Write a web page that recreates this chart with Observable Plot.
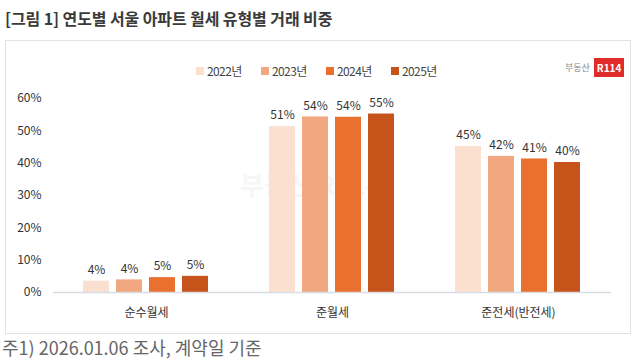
<!DOCTYPE html>
<html><head><meta charset="utf-8">
<script src="https://cdn.jsdelivr.net/npm/d3@7"></script>
<script src="https://cdn.jsdelivr.net/npm/@observablehq/plot@0.6"></script>
<style>
body{margin:0;width:640px;height:360px;background:#fff;font-family:"Noto Sans CJK KR","Noto Sans",sans-serif;overflow:hidden;position:relative;color:#333}
#title{position:absolute;left:5px;top:6px;font-size:16px;font-weight:bold;color:#3a3a3a;letter-spacing:-0.1px}
#box{position:absolute;left:5px;top:40px;width:626px;height:294px;border:1px solid #e2e2e2;box-sizing:border-box}
#legend{position:absolute;top:62px;left:196px;display:flex;font-size:12px;color:#444;letter-spacing:-0.6px}
#legend div{display:flex;align-items:center;width:65px}
#legend span.sw{width:8px;height:8px;margin-right:3px;display:inline-block}
#logo{position:absolute;left:565px;top:58px;display:flex;align-items:center;font-size:9px;color:#888}
#logo .r{background:#e02b2b;color:#fff;font-weight:bold;font-size:10px;padding:2px 3px;margin-left:4px}
#wm{position:absolute;left:240px;top:165px;font-size:26px;font-weight:bold;color:#000;opacity:0.03}
#chart{position:absolute;left:0;top:85px}
#foot{position:absolute;left:2px;top:337px;font-size:18px;line-height:20px;color:#666}
</style></head><body>
<div id="title">[그림 1] 연도별 서울 아파트 월세 유형별 거래 비중</div>
<div id="box"></div>
<div id="legend"></div>
<div id="logo">부동산<span class="r">R114</span></div>
<div id="wm">부동산 R114</div>
<div id="chart"></div>
<div id="foot">주1) 2026.01.06 조사, 계약일 기준</div>
<script>
const categories = ["순수월세", "준월세", "준전세(반전세)"];
const years = ["2022년", "2023년", "2024년", "2025년"];
const colors = ["#fbe0d0", "#f1a77f", "#e9702f", "#c5531a"];
const v2022 = [3.5, 51.3, 45.2];
const v2023 = [3.9, 54.3, 42.1];
const v2024 = [4.6, 54.2, 41.3];
const v2025 = [5.0, 55.2, 40.2];
const labels2022 = ["4%", "51%", "45%"];
const labels2023 = ["4%", "54%", "42%"];
const labels2024 = ["5%", "54%", "41%"];
const labels2025 = ["5%", "55%", "40%"];
const yTicks = [0, 10, 20, 30, 40, 50, 60];

const series = [v2022, v2023, v2024, v2025];
const lbls = [labels2022, labels2023, labels2024, labels2025];
const data = [];
categories.forEach((c, i) => years.forEach((y, j) => data.push({cat: c, year: y, value: series[j][i], label: lbls[j][i]})));

const leg = document.getElementById("legend");
years.forEach((y, j) => {
  const d = document.createElement("div");
  d.innerHTML = `<span class="sw" style="background:${colors[j]}"></span>${y}`;
  leg.appendChild(d);
});

const chart = Plot.plot({
  width: 640,
  height: 245,
  marginLeft: 52,
  marginRight: 28,
  marginTop: 13,
  marginBottom: 38,
  style: {fontFamily: "'Noto Sans CJK KR','Noto Sans',sans-serif", fontSize: "12px", color: "#333"},
  fx: {domain: categories, padding: 0, label: null, axis: "bottom", tickSize: 0, tickPadding: 16},
  x: {domain: years, axis: null, paddingInner: 0.206, paddingOuter: 0.85},
  y: {domain: [0, 60], ticks: yTicks, tickFormat: d => d + "%", tickSize: 0, tickPadding: 12, label: null},
  color: {domain: years, range: colors},
  marks: [
    Plot.barY(data, {fx: "cat", x: "year", y: "value", fill: "year"}),
    Plot.ruleY([0], {stroke: "#d9dde3", strokeWidth: 1.5}),
    Plot.text(data, {fx: "cat", x: "year", y: "value", text: "label", dy: -11, fill: "#333", fontSize: 12})
  ]
});
document.getElementById("chart").appendChild(chart);
</script>
</body></html>
